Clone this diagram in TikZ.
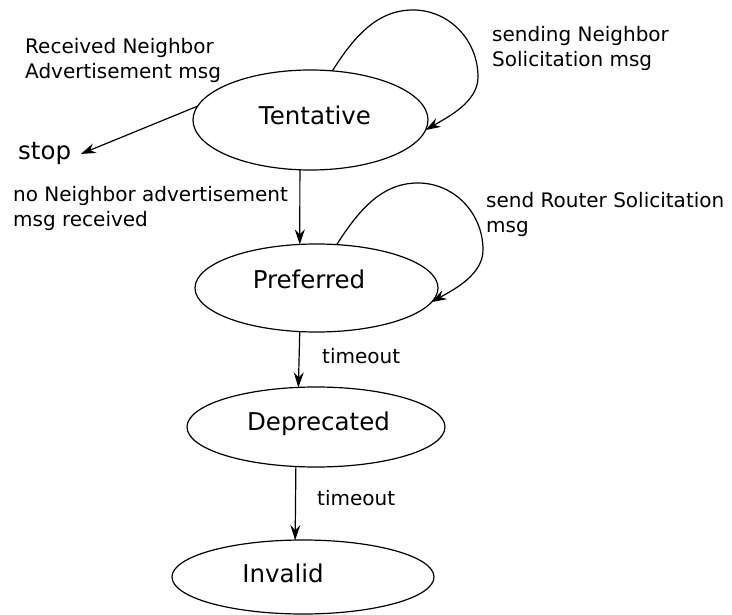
\documentclass[tikz,border=0pt]{standalone}
\usepackage{fontspec}
\setmainfont{DejaVu Sans}
\usetikzlibrary{arrows.meta,shapes.geometric}

\begin{document}
\begin{tikzpicture}[x=1pt,y=-1pt,
  state/.style={ellipse, draw, line width=1.2pt, inner sep=0pt, outer sep=0pt},
  statetext/.style={font=\fontsize{24.5}{29}\selectfont, inner sep=0pt, anchor=base},
  lbl/.style={font=\fontsize{20}{25}\selectfont, align=left, inner sep=0pt, anchor=base west},
  arr/.style={-{Stealth[length=15pt,width=10pt,inset=5pt]}, line width=1.2pt},
]
\useasboundingbox (0,0) rectangle (732,615);

% states
\node[state, minimum width=235pt, minimum height=100pt] (tent) at (310.5,120) {};
\node[state, minimum width=243pt, minimum height=88pt] (pref) at (316.5,288) {};
\node[state, minimum width=258pt, minimum height=80pt] (depr) at (316,427) {};
\node[state, minimum width=262pt, minimum height=74pt] (inv) at (303,577) {};

\node[statetext] (tentL) at (315,125) {Tentative};
\node[statetext] (prefL) at (309,289) {Preferred};
\node[statetext] (deprL) at (318.5,430) {Deprecated};
\node[statetext] (invL) at (283,582) {Invalid};
\node[statetext, anchor=base west, inner xsep=9.5pt] (stop) at (8.5,160) {stop};

% transitions
\draw[arr] (tent.258) -- (pref.111);
\draw[arr] (pref.249) -- (depr.114);
\draw[arr] (depr.243) -- (inv.102);
\draw[arr] (tent.173) -- (stop.east);

% self loops
\draw[arr] (tent.66) .. controls (355,35) and (378,10) .. (413,10)
  .. controls (449,10) and (478,40) .. (478,77)
  .. controls (478,102) and (448,117) .. (tent.355);
\draw[arr] (pref.65) .. controls (360,208) and (383,183) .. (418,183)
  .. controls (454,183) and (483,213) .. (483,250)
  .. controls (483,275) and (453,290) .. (pref.353);

% transition labels (a multi-line node sits on its last baseline)
\node[lbl] (recv) at (25,79) {Received Neighbor\\Advertisement msg};
\node[lbl] (sendNS) at (492,67) {sending Neighbor\\Solicitation msg};
\node[lbl] (noNA) at (13,227) {no Neighbor advertisement\\msg received};
\node[lbl] (sendRS) at (486,233) {send Router Solicitation\\msg};
\node[lbl] (to1) at (322,363) {timeout};
\node[lbl] (to2) at (317,505) {timeout};
\end{tikzpicture}
\end{document}
